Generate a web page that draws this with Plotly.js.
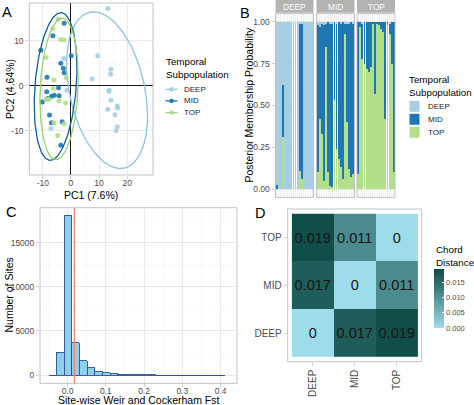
<!DOCTYPE html>
<html><head><meta charset="utf-8">
<script src="https://cdn.plot.ly/plotly-3.0.1.min.js"></script>
<style>html,body{margin:0;padding:0;background:#fff}#chart{width:474px;height:405px}</style>
</head><body><div id="chart"></div>
<script>
// ---------- DATA ----------
const groups = ['DEEP', 'MID', 'TOP'];

// Panel A: PCA scores
const pcaDeepX = [13.1, 9.5, 14.2, 14.1, 7.6, 13.6, 13.5, 14.2, 13.1, 16.5, 16.6, 15.7, 16.5, 16.1, -2.5, -1.5, -7.1];
const pcaDeepY = [17.2, 6.7, 3.7, 2.6, 1.6, -1.0, -1.2, -3.2, -5.2, -4.5, -4.9, -6.4, -9.1, -10.0, 6.1, -1.0, -9.5];
const pcaMidX = [-2.4, -6.4, -10.7, 0.1, -3.6, -2.7, -2.4, -8.5, -4.4, -8.6, -6.9, -5.9, -4.2, -10.2, -8.3, -7.6, -6.9, -3.1, -3.6];
const pcaMidY = [13.9, 11.1, 7.9, 6.7, 5.0, 3.9, 2.9, 1.9, -0.4, -1.3, -2.3, -2.1, -2.2, -3.6, -2.8, -6.5, -8.2, -8.0, -13.2];
const pcaTopX = [-4.5, -6.4, -3.7, -2.4, -8.8, -6.0, -1.7, -8.9, -7.8, -4.2, -1.9, -6.0, -2.4, -4.7, -6.3];
const pcaTopY = [14.8, 12.7, 10.3, 10.2, 6.3, 1.3, 1.8, -3.0, -3.0, -3.3, -3.8, -8.2, -8.4, -11.0, -0.6];
// 95% ellipses (centre, half-extents, correlation) per group: DEEP, MID, TOP
const ellipseCX = [12.85, -5.45, -4.2];
const ellipseCY = [-0.96, -0.14, -0.69];
const ellipseHX = [14.4, 7.6, 6.8];
const ellipseHY = [17.4, 16.4, 15.7];
const ellipseRho = [-0.33, 0.25, 0.16];
const pcaXTicks = [-10, 0, 10, 20];
const pcaXTickText = ['-10', '0', '10', '20'];
const pcaYTicks = [-10, 0, 10];
const pcaYTickText = ['-10', '0', '10'];

// Panel B: posterior membership probabilities, per facet (sample order)
const postDeepFacetTOP = [0, 0, 0, 0.31, 0, 0, 0, 0, 0, 0, 0, 0.11, 0.06, 0, 0, 0, 0, 0];
const postDeepFacetMID = [0.025, 0, 0, 0.31, 0, 0, 0, 0, 0, 0, 0, 0.88, 0.93, 0, 0, 0, 0, 0];
const postDeepFacetDEEP = [0.975, 1, 1, 0.38, 1, 1, 1, 1, 1, 1, 1, 0.01, 0.01, 1, 1, 1, 1, 1];
const postMidFacetTOP = [0.10, 0.42, 0.33, 0.05, 0.85, 0.10, 0.02, 0.01, 0.53, 0.24, 0.18, 0.13, 0.06, 0.93, 0.40, 0.12, 0.07, 0.09];
const postMidFacetMID = [0.88, 0.55, 0.66, 0.93, 0.14, 0.90, 0.97, 0.98, 0.47, 0.75, 0.82, 0.86, 0.94, 0.06, 0.59, 0.87, 0.93, 0.90];
const postMidFacetDEEP = [0.02, 0.03, 0.01, 0.02, 0.01, 0, 0.01, 0.01, 0, 0.01, 0, 0.01, 0, 0.01, 0.01, 0.01, 0, 0.01];
const postTopFacetTOP = [0.09, 0.97, 0.78, 0.75, 0.72, 0.70, 0.73, 0.99, 0.57, 0.99, 0.98, 0.96, 0.94, 0.42, 0.98, 0.93, 0.75, 0.10];
const postTopFacetMID = [0.91, 0.03, 0.21, 0.25, 0.28, 0.30, 0.27, 0.01, 0.43, 0.01, 0.02, 0.04, 0.06, 0.58, 0.02, 0.06, 0.25, 0.90];
const postTopFacetDEEP = [0, 0, 0.01, 0, 0, 0, 0, 0, 0, 0, 0, 0, 0, 0, 0, 0.01, 0, 0];
const postYTicks = [0, 0.25, 0.5, 0.75, 1];
const postYTickText = ['0.00', '0.25', '0.50', '0.75', '1.00'];

// Panel C: histogram of site-wise Fst
const fstBinCenters = [-0.039, -0.019, 0.001, 0.021, 0.041, 0.061, 0.081, 0.101, 0.121, 0.141, 0.161, 0.181, 0.201, 0.221, 0.241, 0.261, 0.281, 0.301, 0.321, 0.341, 0.361, 0.381, 0.401];
const fstCounts = [5, 2570, 18100, 3650, 1660, 830, 450, 260, 150, 90, 60, 40, 30, 20, 15, 12, 9, 7, 5, 4, 3, 2, 2];
const fstMean = [0.018];
const fstXTicks = [0, 0.1, 0.2, 0.3, 0.4];
const fstXTickText = ['0.0', '0.1', '0.2', '0.3', '0.4'];
const fstYTicks = [0, 5000, 10000, 15000];
const fstYTickText = ['0', '5000', '10000', '15000'];

// Panel D: chord distance matrix (rows = y category, cols = x category)
const chordCats = ['DEEP', 'MID', 'TOP'];
const chordDist = [
  [0, 0.017, 0.019],
  [0.017, 0, 0.011],
  [0.019, 0.011, 0]
];
const chordBarTicks = [0, 0.005, 0.010, 0.015];
const chordBarTickText = ['0.000', '0.005', '0.010', '0.015'];

// ---------- STYLE ----------
const W = 474, H = 405;
const X = p => p / W;
const Y = p => 1 - p / H;
const FONT = 'Liberation Sans, Arial, sans-serif';
const groupColors = ['#A6CEE3', '#1F78B4', '#B2DF8A'];
const ellipseColors = ['#8CC4DA', '#0F5F9A', '#9CCF70'];
const gridCol = '#DEDEDE', minorCol = '#EFEFEF', borderCol = '#B3B3B3', tickTextCol = '#4D4D4D';

function ellipsePath(cx, cy, hx, hy, rho) {
  const xs = [], ys = [], d = Math.acos(rho), n = 160;
  for (let i = 0; i <= n; i++) {
    const t = 2 * Math.PI * i / n;
    xs.push(cx + hx * Math.cos(t));
    ys.push(cy + hy * Math.cos(t - d));
  }
  return [xs, ys];
}

const traces = [];
// Panel A points
const pcaX = [pcaDeepX, pcaMidX, pcaTopX], pcaY = [pcaDeepY, pcaMidY, pcaTopY];
groups.forEach((g, i) => {
  traces.push({type: 'scatter', mode: 'markers', x: pcaX[i], y: pcaY[i], xaxis: 'x', yaxis: 'y', name: g,
    marker: {color: groupColors[i], size: 5, opacity: 0.9}, showlegend: false, hoverinfo: 'skip'});
});
groups.forEach((g, i) => {
  const [ex, ey] = ellipsePath(ellipseCX[i], ellipseCY[i], ellipseHX[i], ellipseHY[i], ellipseRho[i]);
  traces.push({type: 'scatter', mode: 'lines', x: ex, y: ey, xaxis: 'x', yaxis: 'y', name: g + ' ellipse',
    line: {color: ellipseColors[i], width: 1.3}, showlegend: false, hoverinfo: 'skip'});
});

// Panel B stacked bars
const facets = [
  {ax: ['x2', 'y2'], TOP: postDeepFacetTOP, MID: postDeepFacetMID, DEEP: postDeepFacetDEEP},
  {ax: ['x3', 'y3'], TOP: postMidFacetTOP, MID: postMidFacetMID, DEEP: postMidFacetDEEP},
  {ax: ['x4', 'y4'], TOP: postTopFacetTOP, MID: postTopFacetMID, DEEP: postTopFacetDEEP}
];
facets.forEach(f => {
  ['TOP', 'MID', 'DEEP'].forEach(g => {
    const vals = f[g];
    traces.push({type: 'bar', x: vals.map((_, i) => i), y: vals, xaxis: f.ax[0], yaxis: f.ax[1], name: g,
      marker: {color: groupColors[groups.indexOf(g)], line: {width: 0}}, showlegend: false, hoverinfo: 'skip'});
  });
});

// Panel C histogram
traces.push({type: 'bar', x: fstBinCenters, y: fstCounts, width: 0.02, xaxis: 'x5', yaxis: 'y5',
  marker: {color: '#8FCFEA', line: {color: '#2F4F93', width: 0.9}}, showlegend: false, hoverinfo: 'skip'});

// Panel D heatmap
traces.push({type: 'heatmap', x: chordCats, y: chordCats, z: chordDist, xaxis: 'x6', yaxis: 'y6',
  text: chordDist.map(r => r.map(v => v === 0 ? '0' : v.toFixed(3))),
  texttemplate: '%{text}', textfont: {family: FONT, size: 14.5, color: '#161616'},
  colorscale: [[0, '#9DDCE9'], [1, '#0C4B46']], zmin: 0, zmax: 0.0194, hoverinfo: 'skip',
  colorbar: {x: X(434), xanchor: 'left', xref: 'paper', y: Y(298.5), yanchor: 'middle', yref: 'paper',
    len: 59, lenmode: 'pixels', thickness: 10, thicknessmode: 'pixels', outlinewidth: 0, xpad: 0, ypad: 0,
    tickmode: 'array', tickvals: chordBarTicks, ticktext: chordBarTickText, ticks: 'inside', ticklen: 2,
    tickcolor: '#ffffff', tickfont: {family: FONT, size: 7.5, color: tickTextCol}}
});

// ---------- LAYOUT ----------
const tickStyle = {ticks: 'outside', ticklen: 3, tickwidth: 0.6, tickcolor: borderCol,
  tickfont: {family: FONT, size: 8.5, color: tickTextCol}, showline: false, zeroline: false,
  gridcolor: gridCol, gridwidth: 0.6};

const layout = {
  width: W, height: H, margin: {l: 0, r: 0, t: 0, b: 0},
  paper_bgcolor: '#ffffff', plot_bgcolor: '#ffffff', showlegend: false,
  font: {family: FONT, color: '#000'}, barmode: 'stack', bargap: 0.1,
  xaxis: Object.assign({}, tickStyle, {domain: [X(29.3), X(153)], range: [-14.8, 29.2], anchor: 'y',
    tickmode: 'array', tickvals: pcaXTicks, ticktext: pcaXTickText, ticklabelstandoff: -3,
    zeroline: true, zerolinecolor: '#000', zerolinewidth: 0.9,
    minor: {tickmode: 'array', tickvals: [-5, 5, 15, 25], showgrid: true, gridcolor: minorCol, gridwidth: 0.4, ticks: ''}}),
  yaxis: Object.assign({}, tickStyle, {domain: [Y(175), Y(3)], range: [-19.8, 18.4], anchor: 'x',
    tickmode: 'array', tickvals: pcaYTicks, ticktext: pcaYTickText,
    zeroline: true, zerolinecolor: '#000', zerolinewidth: 0.9,
    minor: {tickmode: 'array', tickvals: [-15, -5, 5, 15], showgrid: true, gridcolor: minorCol, gridwidth: 0.4, ticks: ''}}),
  xaxis5: Object.assign({}, tickStyle, {domain: [X(40), X(237)], range: [-0.072, 0.443], anchor: 'y5',
    tickmode: 'array', tickvals: fstXTicks, ticktext: fstXTickText, ticklabelstandoff: -4,
    minor: {tickmode: 'array', tickvals: [-0.05, 0.05, 0.15, 0.25, 0.35], showgrid: true, gridcolor: minorCol, gridwidth: 0.4, ticks: ''}}),
  yaxis5: Object.assign({}, tickStyle, {domain: [Y(383.3), Y(207.7)], range: [-920, 18950], anchor: 'x5',
    tickmode: 'array', tickvals: fstYTicks, ticktext: fstYTickText,
    minor: {tickmode: 'array', tickvals: [2500, 7500, 12500, 17500], showgrid: true, gridcolor: minorCol, gridwidth: 0.4, ticks: ''}}),
  xaxis6: Object.assign({}, tickStyle, {domain: [X(287.7), X(421.7)], range: [-0.6, 2.6], anchor: 'y6', type: 'category',
    showgrid: false, tickangle: -90, tickfont: {family: FONT, size: 10, color: tickTextCol}}),
  yaxis6: Object.assign({}, tickStyle, {domain: [Y(361.7), Y(209)], range: [-0.6, 2.6], anchor: 'x6', type: 'category',
    showgrid: false, tickfont: {family: FONT, size: 10, color: tickTextCol}}),
  annotations: [], shapes: []
};

const facetDomains = [[275.5, 313.5], [316.5, 354.5], [357, 395]];
const facetNames = ['DEEP', 'MID', 'TOP'];
facetDomains.forEach((d, i) => {
  const xa = 'xaxis' + (i + 2), ya = 'yaxis' + (i + 2);
  layout[xa] = {domain: [X(d[0]), X(d[1])], range: [-0.6, 17.6], anchor: 'y' + (i + 2),
    showticklabels: false, ticks: '', showgrid: true, gridcolor: gridCol, gridwidth: 0.5,
    tickmode: 'linear', tick0: 0, dtick: 1, zeroline: false, showline: false};
  layout[ya] = Object.assign({}, tickStyle, {domain: [Y(197.4), Y(13.6)], range: [-0.05, 1.05], anchor: 'x' + (i + 2),
    tickmode: 'array', tickvals: postYTicks, ticktext: postYTickText,
    showticklabels: i === 0, ticks: i === 0 ? 'outside' : ''});
  // strip
  layout.shapes.push({type: 'rect', xref: 'x' + (i + 2) + ' domain', yref: 'paper', x0: 0, x1: 1, y0: Y(12.7), y1: Y(0),
    fillcolor: '#B3B3B3', line: {width: 0}, layer: 'above'});
  layout.annotations.push({xref: 'x' + (i + 2) + ' domain', yref: 'paper', x: 0.5, y: Y(6.5), text: facetNames[i],
    showarrow: false, font: {family: FONT, size: 8.3, color: '#ffffff'}, xanchor: 'center', yanchor: 'middle'});
});

// panel borders
[['x', 'y'], ['x2', 'y2'], ['x3', 'y3'], ['x4', 'y4'], ['x5', 'y5'], ['x6', 'y6']].forEach(p => {
  layout.shapes.push({type: 'rect', xref: p[0] + ' domain', yref: p[1] + ' domain', x0: 0, x1: 1, y0: 0, y1: 1,
    line: {color: borderCol, width: 0.8}, fillcolor: 'rgba(0,0,0,0)', layer: 'above'});
});

// mean Fst line
layout.shapes.push({type: 'line', xref: 'x5', yref: 'y5 domain', x0: fstMean[0], x1: fstMean[0], y0: 0, y1: 1,
  line: {color: '#F4837D', width: 1.4}, layer: 'above'});

function ann(text, px, py, opts) {
  layout.annotations.push(Object.assign({xref: 'paper', yref: 'paper', x: X(px), y: Y(py), text: text, showarrow: false,
    xanchor: 'center', yanchor: 'middle', font: {family: FONT, size: 10.5, color: '#000'}}, opts || {}));
}
// panel tags
ann('A', 7, 12, {font: {family: FONT, size: 14.5, color: '#000'}});
ann('B', 245, 13, {font: {family: FONT, size: 14.5, color: '#000'}});
ann('C', 11, 212, {font: {family: FONT, size: 14.5, color: '#000'}});
ann('D', 260, 213, {font: {family: FONT, size: 14.5, color: '#000'}});
// axis titles
ann('PC1 (7.6%)', 91, 194.5);
ann('PC2 (4.64%)', 10, 89, {textangle: -90});
ann('Posterior Membership Probability', 248, 105.5, {textangle: -90});
ann('Number of Sites', 8, 295.5, {textangle: -90});
ann('Site-wise Weir and Cockerham Fst', 138.5, 399.5);

// legend A
ann('Temporal<br>Subpopulation', 164, 68, {xanchor: 'left', align: 'left', font: {family: FONT, size: 9.8, color: '#000'}});
const legAY = [89.3, 100.9, 112.6];
groups.forEach((g, i) => {
  layout.shapes.push({type: 'line', xref: 'paper', yref: 'paper', x0: X(165.5), x1: X(177.5), y0: Y(legAY[i]), y1: Y(legAY[i]),
    line: {color: ellipseColors[i], width: 1.2}});
  layout.shapes.push({type: 'circle', xref: 'paper', yref: 'paper', x0: X(169.3), x1: X(173.7), y0: Y(legAY[i] + 2.2), y1: Y(legAY[i] - 2.2),
    fillcolor: groupColors[i], line: {width: 0}});
  ann(g, 182, legAY[i], {xanchor: 'left', font: {family: FONT, size: 8, color: '#1A1A1A'}});
});
// legend B
ann('Temporal<br>Subpopulation', 407, 86, {xanchor: 'left', align: 'left', font: {family: FONT, size: 9.8, color: '#000'}});
const legBY = [106.3, 119.3, 132.3];
groups.forEach((g, i) => {
  layout.shapes.push({type: 'rect', xref: 'paper', yref: 'paper', x0: X(409.5), x1: X(419.5), y0: Y(legBY[i] + 5.5), y1: Y(legBY[i] - 5.5),
    fillcolor: groupColors[i], line: {width: 0}});
  ann(g, 426, legBY[i], {xanchor: 'left', font: {family: FONT, size: 8, color: '#1A1A1A'}});
});
// colorbar title
ann('Chord<br>Distance', 434, 256, {xanchor: 'left', align: 'left', font: {family: FONT, size: 9.8, color: '#000'}});

Plotly.newPlot('chart', traces, layout, {staticPlot: true, displayModeBar: false});
</script>
</body></html>
